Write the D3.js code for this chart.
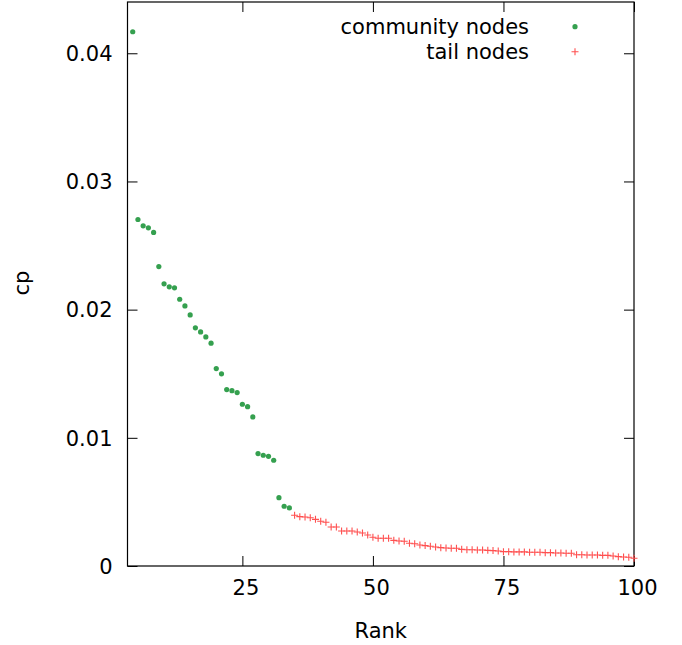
<!DOCTYPE html>
<meta charset="utf-8">
<style>
body { margin: 0; background: #fff; }
svg { font-family: "DejaVu Sans", sans-serif; font-size: 21px; }
.tick line { stroke: #000; }
.border { fill: none; stroke: #000; stroke-width: 1.2px; }
</style>
<body>
<script src="https://cdnjs.cloudflare.com/ajax/libs/d3/7.8.5/d3.min.js"></script>
<script>

// ranks 4..34 are community nodes, 35..100 tail nodes
var communityRank = d3.range(4, 35);
var communityCp = [0.04168, 0.02703, 0.02654, 0.02638, 0.02602, 0.02336, 0.02201, 0.02178, 0.02170,
  0.02081, 0.02029, 0.01959, 0.01858, 0.01826, 0.01787, 0.01738, 0.01540, 0.01499, 0.01376,
  0.01368, 0.01353, 0.01262, 0.01243, 0.01163, 0.00877, 0.00864, 0.00856, 0.00825, 0.00533,
  0.00466, 0.00453];

var tailRank = d3.range(35, 101);
var tailCp = [0.00396, 0.00385, 0.00382, 0.00377, 0.00364, 0.00349, 0.00341, 0.00304, 0.00304,
  0.00273, 0.00273, 0.00273, 0.00265, 0.00258, 0.00242, 0.00224, 0.00216, 0.00216, 0.00216,
  0.00200, 0.00195, 0.00193, 0.00177, 0.00174, 0.00164, 0.00159, 0.00154, 0.00148, 0.00143,
  0.00140, 0.00138, 0.00138, 0.00130, 0.00127, 0.00127, 0.00125, 0.00125, 0.00122, 0.00120,
  0.00117, 0.00112, 0.00112, 0.00110, 0.00110, 0.00110, 0.00107, 0.00107, 0.00107, 0.00104,
  0.00104, 0.00101, 0.00101, 0.00099, 0.00099, 0.00088, 0.00088, 0.00086, 0.00086, 0.00086,
  0.00083, 0.00083, 0.00078, 0.00073, 0.00070, 0.00068, 0.00060];

var xTicks = [25, 50, 75, 100];
var yTicks = [0, 0.01, 0.02, 0.03, 0.04];

var margin = {top: 2, right: 48, bottom: 79, left: 127.5},
    width = 682 - margin.left - margin.right,
    height = 645 - margin.top - margin.bottom;

var x = d3.scaleLinear().domain([3, 100]).range([0, width]);
var y = d3.scaleLinear().domain([0, 0.044]).range([height, 0]);

var svg = d3.select("body").append("svg")
    .attr("width", 682)
    .attr("height", 645)
  .append("g")
    .attr("transform", "translate(" + margin.left + "," + margin.top + ")");

// axes, gnuplot style: ticks inward, mirrored
svg.append("g")
    .attr("transform", "translate(0," + height + ")")
    .call(d3.axisBottom(x).tickValues(xTicks).tickSize(-10).tickPadding(14))
    .call(function(g) { g.select(".domain").remove(); g.selectAll("text").attr("dx", 3).attr("font-size", 21).attr("font-family", "DejaVu Sans"); });

svg.append("g")
    .call(d3.axisTop(x).tickValues(xTicks).tickSize(-10).tickFormat(""))
    .call(function(g) { g.select(".domain").remove(); });

svg.append("g")
    .call(d3.axisLeft(y).tickValues(yTicks).tickSize(-10).tickPadding(15).tickFormat(function(d) { return d === 0 ? "0" : d3.format(".2f")(d); }))
    .call(function(g) { g.select(".domain").remove(); g.selectAll("text").attr("dy", "0.35em").attr("font-size", 21).attr("font-family", "DejaVu Sans"); });

svg.append("g")
    .attr("transform", "translate(" + width + ",0)")
    .call(d3.axisRight(y).tickValues(yTicks).tickSize(-10).tickFormat(""))
    .call(function(g) { g.select(".domain").remove(); });

svg.append("rect")
    .attr("class", "border")
    .attr("width", width)
    .attr("height", height);

// points
svg.append("g").selectAll("circle")
    .data(communityRank)
  .enter().append("circle")
    .attr("cx", function(d) { return x(d); })
    .attr("cy", function(d, i) { return y(communityCp[i]); })
    .attr("r", 2.6)
    .attr("fill", "#35a04f");

var plus = d3.symbol().type(d3.symbolCross);
svg.append("g").selectAll("path")
    .data(tailRank)
  .enter().append("path")
    .attr("transform", function(d, i) { return "translate(" + x(d) + "," + y(tailCp[i]) + ")"; })
    .attr("d", "M-3.5,0H3.5M0,-3.5V3.5")
    .attr("stroke", "#ff5050")
    .attr("stroke-width", 1.1)
    .attr("fill", "none");

// legend
var legend = svg.append("g").attr("transform", "translate(" + (529 - margin.left) + ",0)");
legend.append("text").attr("x", 0).attr("y", 25).attr("dy", "0.35em").attr("text-anchor", "end").text("community nodes");
legend.append("text").attr("x", 0).attr("y", 50).attr("dy", "0.35em").attr("text-anchor", "end").text("tail nodes");
legend.append("circle").attr("cx", 46).attr("cy", 24.7).attr("r", 2.6).attr("fill", "#35a04f");
legend.append("path").attr("transform", "translate(46,49.7)").attr("d", "M-3.5,0H3.5M0,-3.5V3.5")
    .attr("stroke", "#ff5050").attr("stroke-width", 1.1);

// axis titles
svg.append("text")
    .attr("x", width / 2)
    .attr("y", height + 65)
    .attr("dy", "0.35em")
    .attr("text-anchor", "middle")
    .text("Rank");

svg.append("text")
    .attr("transform", "translate(" + (22 - margin.left) + "," + (283 - margin.top) + ")rotate(-90)")
    .attr("dy", "0.35em")
    .attr("text-anchor", "middle")
    .text("cp");

</script>
